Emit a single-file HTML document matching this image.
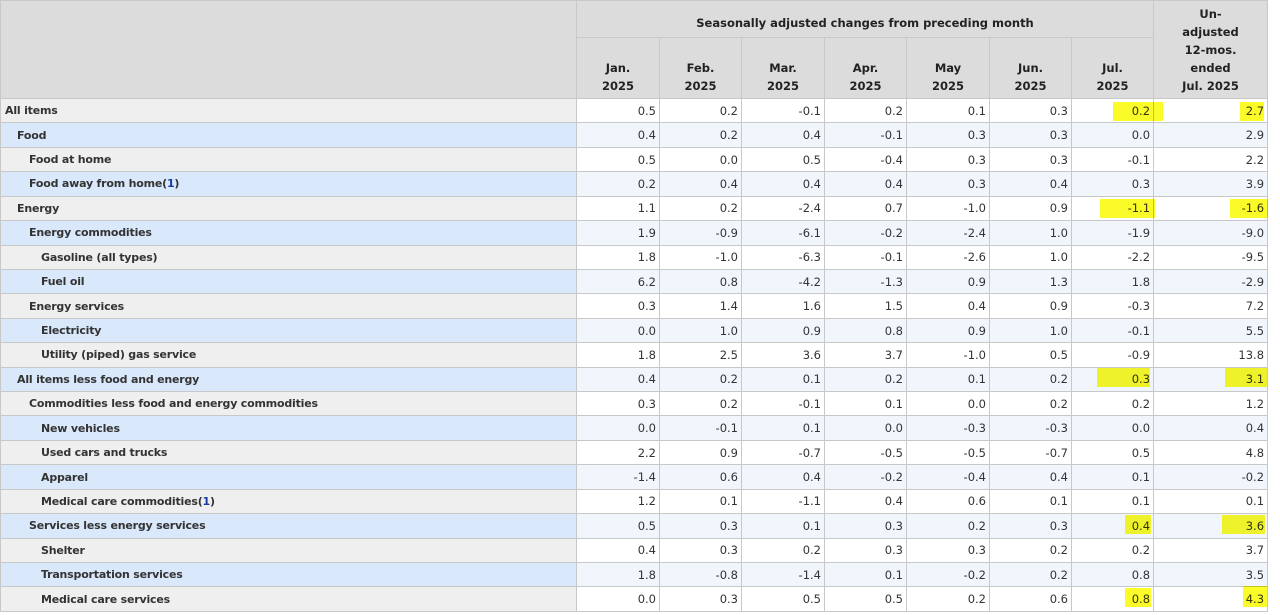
<!DOCTYPE html>
<html><head><meta charset="utf-8"><style>
body{margin:0;width:1280px;height:615px;background:#fff;overflow:hidden;position:relative;font-family:"DejaVu Sans",Verdana,sans-serif;}
table{border-collapse:collapse;table-layout:fixed;position:absolute;left:0;top:0;width:1267px;font-size:11.5px;color:#333;}
th{background:#dcdcdc;font-weight:bold;color:#222;border:1px solid #c8c8c8;line-height:18px;padding:0 2px;}
td{border:1px solid #c8c8c8;text-align:right;padding:0 3px 0 0;white-space:nowrap;}
td.s{text-align:left;font-weight:bold;color:#333;background:#efefef;font-size:11px;letter-spacing:-0.2px;}
tr.b td{background:#f1f6fd;}
tr.b td.s{background:#dae8fb;}
tbody tr{height:24.43px;}
.l0{padding-left:4px}.l1{padding-left:16px}.l2{padding-left:28px}.l3{padding-left:40px}
a{color:#1a3aa8;}
.y{position:absolute;background:#fbfb2a;mix-blend-mode:multiply;}
</style></head><body>
<table>
<colgroup><col style="width:576px"><col style="width:83px"><col style="width:82px"><col style="width:83px"><col style="width:82px"><col style="width:83px"><col style="width:82px"><col style="width:82px"><col style="width:114px"></colgroup>
<thead>
<tr style="height:37px"><th rowspan="2"></th><th colspan="7" style="padding-top:8px">Seasonally adjusted changes from preceding month</th><th rowspan="2">Un-<br>adjusted<br>12-mos.<br>ended<br>Jul. 2025</th></tr>
<tr style="height:61px"><th style="vertical-align:bottom;padding-bottom:3px">Jan.<br>2025</th><th style="vertical-align:bottom;padding-bottom:3px">Feb.<br>2025</th><th style="vertical-align:bottom;padding-bottom:3px">Mar.<br>2025</th><th style="vertical-align:bottom;padding-bottom:3px">Apr.<br>2025</th><th style="vertical-align:bottom;padding-bottom:3px">May<br>2025</th><th style="vertical-align:bottom;padding-bottom:3px">Jun.<br>2025</th><th style="vertical-align:bottom;padding-bottom:3px">Jul.<br>2025</th></tr>
</thead>
<tbody>
<tr><td class="s l0">All items</td><td>0.5</td><td>0.2</td><td>-0.1</td><td>0.2</td><td>0.1</td><td>0.3</td><td>0.2</td><td>2.7</td></tr>
<tr class="b"><td class="s l1">Food</td><td>0.4</td><td>0.2</td><td>0.4</td><td>-0.1</td><td>0.3</td><td>0.3</td><td>0.0</td><td>2.9</td></tr>
<tr><td class="s l2">Food at home</td><td>0.5</td><td>0.0</td><td>0.5</td><td>-0.4</td><td>0.3</td><td>0.3</td><td>-0.1</td><td>2.2</td></tr>
<tr class="b"><td class="s l2">Food away from home(<a>1</a>)</td><td>0.2</td><td>0.4</td><td>0.4</td><td>0.4</td><td>0.3</td><td>0.4</td><td>0.3</td><td>3.9</td></tr>
<tr><td class="s l1">Energy</td><td>1.1</td><td>0.2</td><td>-2.4</td><td>0.7</td><td>-1.0</td><td>0.9</td><td>-1.1</td><td>-1.6</td></tr>
<tr class="b"><td class="s l2">Energy commodities</td><td>1.9</td><td>-0.9</td><td>-6.1</td><td>-0.2</td><td>-2.4</td><td>1.0</td><td>-1.9</td><td>-9.0</td></tr>
<tr><td class="s l3">Gasoline (all types)</td><td>1.8</td><td>-1.0</td><td>-6.3</td><td>-0.1</td><td>-2.6</td><td>1.0</td><td>-2.2</td><td>-9.5</td></tr>
<tr class="b"><td class="s l3">Fuel oil</td><td>6.2</td><td>0.8</td><td>-4.2</td><td>-1.3</td><td>0.9</td><td>1.3</td><td>1.8</td><td>-2.9</td></tr>
<tr><td class="s l2">Energy services</td><td>0.3</td><td>1.4</td><td>1.6</td><td>1.5</td><td>0.4</td><td>0.9</td><td>-0.3</td><td>7.2</td></tr>
<tr class="b"><td class="s l3">Electricity</td><td>0.0</td><td>1.0</td><td>0.9</td><td>0.8</td><td>0.9</td><td>1.0</td><td>-0.1</td><td>5.5</td></tr>
<tr><td class="s l3">Utility (piped) gas service</td><td>1.8</td><td>2.5</td><td>3.6</td><td>3.7</td><td>-1.0</td><td>0.5</td><td>-0.9</td><td>13.8</td></tr>
<tr class="b"><td class="s l1">All items less food and energy</td><td>0.4</td><td>0.2</td><td>0.1</td><td>0.2</td><td>0.1</td><td>0.2</td><td>0.3</td><td>3.1</td></tr>
<tr><td class="s l2">Commodities less food and energy commodities</td><td>0.3</td><td>0.2</td><td>-0.1</td><td>0.1</td><td>0.0</td><td>0.2</td><td>0.2</td><td>1.2</td></tr>
<tr class="b"><td class="s l3">New vehicles</td><td>0.0</td><td>-0.1</td><td>0.1</td><td>0.0</td><td>-0.3</td><td>-0.3</td><td>0.0</td><td>0.4</td></tr>
<tr><td class="s l3">Used cars and trucks</td><td>2.2</td><td>0.9</td><td>-0.7</td><td>-0.5</td><td>-0.5</td><td>-0.7</td><td>0.5</td><td>4.8</td></tr>
<tr class="b"><td class="s l3">Apparel</td><td>-1.4</td><td>0.6</td><td>0.4</td><td>-0.2</td><td>-0.4</td><td>0.4</td><td>0.1</td><td>-0.2</td></tr>
<tr><td class="s l3">Medical care commodities(<a>1</a>)</td><td>1.2</td><td>0.1</td><td>-1.1</td><td>0.4</td><td>0.6</td><td>0.1</td><td>0.1</td><td>0.1</td></tr>
<tr class="b"><td class="s l2">Services less energy services</td><td>0.5</td><td>0.3</td><td>0.1</td><td>0.3</td><td>0.2</td><td>0.3</td><td>0.4</td><td>3.6</td></tr>
<tr><td class="s l3">Shelter</td><td>0.4</td><td>0.3</td><td>0.2</td><td>0.3</td><td>0.3</td><td>0.2</td><td>0.2</td><td>3.7</td></tr>
<tr class="b"><td class="s l3">Transportation services</td><td>1.8</td><td>-0.8</td><td>-1.4</td><td>0.1</td><td>-0.2</td><td>0.2</td><td>0.8</td><td>3.5</td></tr>
<tr><td class="s l3">Medical care services</td><td>0.0</td><td>0.3</td><td>0.5</td><td>0.5</td><td>0.2</td><td>0.6</td><td>0.8</td><td>4.3</td></tr>
</tbody></table>
<div class="y" style="left:1113px;top:102px;width:50px;height:19px"></div>
<div class="y" style="left:1240px;top:102px;width:24px;height:19px"></div>
<div class="y" style="left:1100px;top:199px;width:55px;height:19px"></div>
<div class="y" style="left:1230px;top:199px;width:38px;height:19px"></div>
<div class="y" style="left:1097px;top:368px;width:53px;height:19px"></div>
<div class="y" style="left:1225px;top:368px;width:42px;height:19px"></div>
<div class="y" style="left:1125px;top:515px;width:26px;height:19px"></div>
<div class="y" style="left:1222px;top:515px;width:43px;height:19px"></div>
<div class="y" style="left:1125px;top:588px;width:26px;height:19px"></div>
<div class="y" style="left:1243px;top:586px;width:24px;height:21px"></div>
</body></html>
